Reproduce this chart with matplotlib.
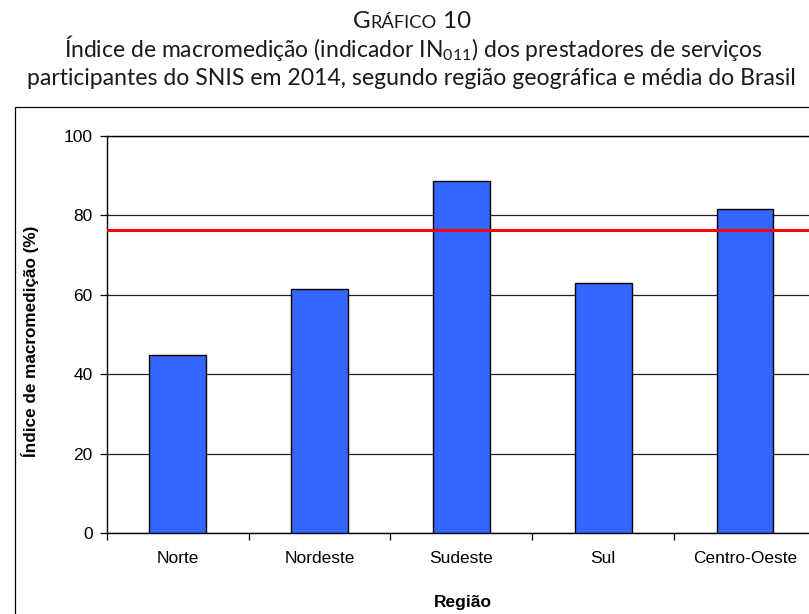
import numpy as np
import matplotlib
matplotlib.use("Agg")
import matplotlib.pyplot as plt
from matplotlib.patches import Rectangle

# dados do gráfico
regioes = ["Norte", "Nordeste", "Sudeste", "Sul", "Centro-Oeste"]
indice = [44.9, 61.5, 88.7, 63.0, 81.5]
media_brasil = 76.2
yticks = [0, 20, 40, 60, 80, 100]

plt.rcParams["font.family"] = "Liberation Sans"
plt.rcParams["mathtext.fontset"] = "custom"
plt.rcParams["mathtext.rm"] = "Lato"

W, H = 809, 614
fig = plt.figure(figsize=(W / 100, H / 100), dpi=100)

# caixa externa (cortada na direita e embaixo, como no original)
fig.patches.append(Rectangle((15 / W, -0.2), 1.2, 0.2 + 1 - 107 / H,
                             transform=fig.transFigure, fill=False,
                             edgecolor="black", linewidth=0.9, clip_on=False))

ax = fig.add_axes([106.7 / W, 1 - 533 / H, (816 - 106.7) / W, (533 - 136) / H])
x = np.arange(len(regioes))
ax.bar(x, indice, width=0.4, color="#3366ff", edgecolor="black",
       linewidth=1.0, zorder=3)
ax.axhline(media_brasil, color="#ff0000", linewidth=2.2, zorder=4)

ax.set_xlim(-0.5, len(regioes) - 0.5)
ax.set_ylim(0, 100)
ax.set_yticks(yticks)
ax.yaxis.grid(True, color="#222222", linewidth=0.9, zorder=0)
ax.set_xticks(np.arange(len(regioes) + 1) - 0.5)
ax.set_xticklabels([])
ax.set_xticks(x, minor=True)
ax.set_xticklabels(regioes, minor=True)
ax.tick_params(axis="x", which="major", length=5, direction="out", width=0.9)
ax.tick_params(axis="x", which="minor", length=0, pad=13, labelsize=12.5)
ax.tick_params(axis="y", length=5, width=0.9, pad=5, labelsize=12.5)
for s in ax.spines.values():
    s.set_linewidth(1.0)
    s.set_color("black")

fig.text(30 / W, 1 - 341 / H, "Índice de macromedição (%)", rotation=90,
         ha="center", va="center", fontsize=12.3, fontweight="bold")
fig.text(463 / W, 1 - 603 / H, "Região", ha="center", va="center",
         fontsize=12.5, fontweight="bold")

# título
tfont = "Lato"
tcolor = "#1a1a1a"
fig.text(413 / W, 1 - 57 / H, r"Índice de macromedição (indicador IN$_{\mathregular{011}}$) dos prestadores de serviços",
         ha="center", va="baseline", fontsize=16.5, family=tfont, color=tcolor)
fig.text(411 / W, 1 - 85 / H, "participantes do SNIS em 2014, segundo região geográfica e média do Brasil",
         ha="center", va="baseline", fontsize=16.6, family=tfont, color=tcolor)

# "GRÁFICO 10" em versalete
partes = [("G", 17.4), ("RÁFICO", 13.2), (" 10", 17.4)]
r = fig.canvas.get_renderer()
textos = [fig.text(0, 1 - 28 / H, s, fontsize=fs, family=tfont, color=tcolor,
                   va="baseline") for s, fs in partes]
larguras = [t.get_window_extent(r).width for t in textos]
x0 = 412 - sum(larguras) / 2
for t, w in zip(textos, larguras):
    t.set_x(x0 / W)
    x0 += w

fig.savefig("out.png", dpi=100)
